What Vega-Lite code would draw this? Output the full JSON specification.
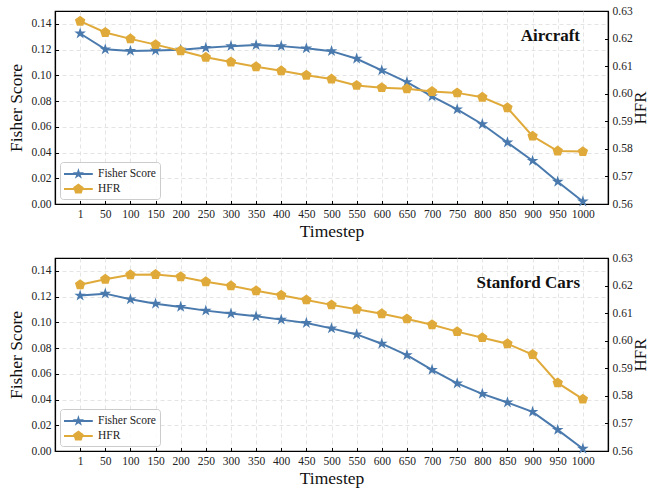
{
  "$schema": "https://vega.github.io/schema/vega-lite/v6.json",
  "padding": {"left": 7, "top": 4, "right": 0, "bottom": 0},
  "background": "white",
  "config": {
    "font": "Liberation Serif",
    "view": {"stroke": "#000", "strokeWidth": 1.2},
    "axis": {
      "labelFont": "Liberation Serif", "labelFontSize": 11.5, "labelColor": "#222",
      "titleFont": "Liberation Serif", "titleFontSize": 17.5, "titleFontWeight": "normal", "titleColor": "#111",
      "tickSize": -3.5, "tickColor": "#000", "tickWidth": 1, "labelPadding": 7.5,
      "domainColor": "#000", "domainWidth": 1.2,
      "gridColor": "#dddddd", "gridDash": [4, 3], "gridWidth": 0.8
    },
    "legend": {"labelFont": "Liberation Serif", "labelFontSize": 11.5, "labelColor": "#222"}
  },
  "datasets": {
    "d": [
      {"ds": "Aircraft", "t": 1, "fisher": 0.1325, "hfr": 0.6263},
      {"ds": "Aircraft", "t": 50, "fisher": 0.1202, "hfr": 0.6222},
      {"ds": "Aircraft", "t": 100, "fisher": 0.1190, "hfr": 0.6199},
      {"ds": "Aircraft", "t": 150, "fisher": 0.1193, "hfr": 0.6178},
      {"ds": "Aircraft", "t": 200, "fisher": 0.1199, "hfr": 0.6156},
      {"ds": "Aircraft", "t": 250, "fisher": 0.1214, "hfr": 0.6132},
      {"ds": "Aircraft", "t": 300, "fisher": 0.1227, "hfr": 0.6115},
      {"ds": "Aircraft", "t": 350, "fisher": 0.1235, "hfr": 0.6098},
      {"ds": "Aircraft", "t": 400, "fisher": 0.1227, "hfr": 0.6083},
      {"ds": "Aircraft", "t": 450, "fisher": 0.1210, "hfr": 0.6067},
      {"ds": "Aircraft", "t": 500, "fisher": 0.1188, "hfr": 0.6053},
      {"ds": "Aircraft", "t": 550, "fisher": 0.1129, "hfr": 0.6030},
      {"ds": "Aircraft", "t": 600, "fisher": 0.1039, "hfr": 0.6022},
      {"ds": "Aircraft", "t": 650, "fisher": 0.0948, "hfr": 0.6018},
      {"ds": "Aircraft", "t": 700, "fisher": 0.0837, "hfr": 0.6008},
      {"ds": "Aircraft", "t": 750, "fisher": 0.0736, "hfr": 0.6003},
      {"ds": "Aircraft", "t": 800, "fisher": 0.0620, "hfr": 0.5987},
      {"ds": "Aircraft", "t": 850, "fisher": 0.0478, "hfr": 0.5949},
      {"ds": "Aircraft", "t": 900, "fisher": 0.0336, "hfr": 0.5846},
      {"ds": "Aircraft", "t": 950, "fisher": 0.0173, "hfr": 0.5792},
      {"ds": "Aircraft", "t": 1000, "fisher": 0.0020, "hfr": 0.5790},
      {"ds": "Stanford Cars", "t": 1, "fisher": 0.1208, "hfr": 0.6203},
      {"ds": "Stanford Cars", "t": 50, "fisher": 0.1223, "hfr": 0.6223},
      {"ds": "Stanford Cars", "t": 100, "fisher": 0.1179, "hfr": 0.6239},
      {"ds": "Stanford Cars", "t": 150, "fisher": 0.1145, "hfr": 0.6240},
      {"ds": "Stanford Cars", "t": 200, "fisher": 0.1120, "hfr": 0.6232},
      {"ds": "Stanford Cars", "t": 250, "fisher": 0.1091, "hfr": 0.6214},
      {"ds": "Stanford Cars", "t": 300, "fisher": 0.1068, "hfr": 0.6199},
      {"ds": "Stanford Cars", "t": 350, "fisher": 0.1047, "hfr": 0.6181},
      {"ds": "Stanford Cars", "t": 400, "fisher": 0.1021, "hfr": 0.6165},
      {"ds": "Stanford Cars", "t": 450, "fisher": 0.0995, "hfr": 0.6148},
      {"ds": "Stanford Cars", "t": 500, "fisher": 0.0953, "hfr": 0.6130},
      {"ds": "Stanford Cars", "t": 550, "fisher": 0.0906, "hfr": 0.6114},
      {"ds": "Stanford Cars", "t": 600, "fisher": 0.0834, "hfr": 0.6098},
      {"ds": "Stanford Cars", "t": 650, "fisher": 0.0745, "hfr": 0.6079},
      {"ds": "Stanford Cars", "t": 700, "fisher": 0.0631, "hfr": 0.6058},
      {"ds": "Stanford Cars", "t": 750, "fisher": 0.0525, "hfr": 0.6033},
      {"ds": "Stanford Cars", "t": 800, "fisher": 0.0444, "hfr": 0.6011},
      {"ds": "Stanford Cars", "t": 850, "fisher": 0.0377, "hfr": 0.5989},
      {"ds": "Stanford Cars", "t": 900, "fisher": 0.0304, "hfr": 0.5950},
      {"ds": "Stanford Cars", "t": 950, "fisher": 0.0164, "hfr": 0.5847},
      {"ds": "Stanford Cars", "t": 1000, "fisher": 0.0018, "hfr": 0.5788}
    ]
  },
  "vconcat": [
    {
      "width": 553, "height": 193,
      "data": {"name": "d"},
      "transform": [{"filter": "datum.ds === 'Aircraft'"}],
      "title": {"text": "Aircraft", "anchor": "end", "frame": "group", "offset": -40, "dx": -28, "fontSize": 17, "fontWeight": "bold", "font": "Liberation Serif", "color": "#111"},
      "encoding": {
        "x": {"field": "t", "type": "ordinal", "scale": {"type": "point", "padding": 1}, "axis": {"labelAngle": 0, "title": "Timestep", "titlePadding": 3, "grid": true, "labelFont": "Liberation Serif"}},
        "color": {"datum": "Fisher Score", "type": "nominal", "scale": {"domain": ["Fisher Score", "HFR"], "range": ["#4a7aad", "#e0aa3a"]},
          "legend": {"title": null, "orient": "bottom-left", "offset": 5, "padding": 4, "rowPadding": 1, "symbolSize": 256, "labelOffset": 18,
            "labelFont": "Liberation Serif", "labelFontSize": 11.5,
            "fillColor": "rgba(255,255,255,0.85)", "strokeColor": "#cccccc", "cornerRadius": 3,
            "encode": {"symbols": {"update": {
              "shape": {"signal": "datum.value === 'HFR' ? 'M-1,-0.125H2.6V0.125H-1Z M0.8,-0.69L1.456,-0.213L1.206,0.558L0.394,0.558L0.144,-0.213Z' : 'M-1,-0.125H2.6V0.125H-1Z M0.8,-0.75L0.968,-0.232L1.513,-0.232L1.072,0.0885L1.241,0.607L0.8,0.2865L0.359,0.607L0.528,0.0885L0.087,-0.232L0.632,-0.232Z'"},
              "fill": {"signal": "datum.value === 'HFR' ? '#e0aa3a' : '#4a7aad'"},
              "stroke": {"value": "transparent"},
              "strokeWidth": {"value": 0},
              "opacity": {"value": 1}
            }}}}
        }
      },
      "layer": [
        {
          "mark": {"type": "line", "strokeWidth": 2, "point": {"shape": "M0,-1L0.2245,-0.309L0.951,-0.309L0.363,0.118L0.588,0.809L0,0.382L-0.588,0.809L-0.363,0.118L-0.951,-0.309L-0.2245,-0.309Z", "size": 150, "filled": true, "opacity": 1}},
          "encoding": {
            "y": {"field": "fisher", "type": "quantitative", "scale": {"domain": [0, 0.15], "nice": false}, "axis": {"title": "Fisher Score", "values": [0, 0.02, 0.04, 0.06, 0.08, 0.1, 0.12, 0.14], "format": ".2f", "grid": true, "titlePadding": 5, "labelFont": "Liberation Serif"}}
          }
        },
        {
          "mark": {"type": "line", "strokeWidth": 2, "point": {"shape": "M0,-1L0.951,-0.309L0.588,0.809L-0.588,0.809L-0.951,-0.309Z", "size": 120, "filled": true, "opacity": 1}},
          "encoding": {
            "y": {"field": "hfr", "type": "quantitative", "scale": {"domain": [0.56, 0.63], "nice": false, "zero": false}, "axis": {"orient": "right", "title": "HFR", "titleAngle": 270, "titleBaseline": "top", "titleFontSize": 17, "values": [0.56, 0.57, 0.58, 0.59, 0.6, 0.61, 0.62, 0.63], "format": ".2f", "grid": false, "titlePadding": 0, "labelFont": "Liberation Serif"}},
            "color": {"datum": "HFR", "type": "nominal"}
          }
        }
      ],
      "resolve": {"scale": {"y": "independent"}}
    },
    {
      "width": 553, "height": 193,
      "data": {"name": "d"},
      "transform": [{"filter": "datum.ds === 'Stanford Cars'"}],
      "title": {"text": "Stanford Cars", "anchor": "end", "frame": "group", "offset": -40, "dx": -28, "fontSize": 17, "fontWeight": "bold", "font": "Liberation Serif", "color": "#111"},
      "encoding": {
        "x": {"field": "t", "type": "ordinal", "scale": {"type": "point", "padding": 1}, "axis": {"labelAngle": 0, "title": "Timestep", "titlePadding": 3, "grid": true, "labelFont": "Liberation Serif"}},
        "color": {"datum": "Fisher Score", "type": "nominal", "scale": {"domain": ["Fisher Score", "HFR"], "range": ["#4a7aad", "#e0aa3a"]},
          "legend": {"title": null, "orient": "bottom-left", "offset": 5, "padding": 4, "rowPadding": 1, "symbolSize": 256, "labelOffset": 18,
            "labelFont": "Liberation Serif", "labelFontSize": 11.5,
            "fillColor": "rgba(255,255,255,0.85)", "strokeColor": "#cccccc", "cornerRadius": 3,
            "encode": {"symbols": {"update": {
              "shape": {"signal": "datum.value === 'HFR' ? 'M-1,-0.125H2.6V0.125H-1Z M0.8,-0.69L1.456,-0.213L1.206,0.558L0.394,0.558L0.144,-0.213Z' : 'M-1,-0.125H2.6V0.125H-1Z M0.8,-0.75L0.968,-0.232L1.513,-0.232L1.072,0.0885L1.241,0.607L0.8,0.2865L0.359,0.607L0.528,0.0885L0.087,-0.232L0.632,-0.232Z'"},
              "fill": {"signal": "datum.value === 'HFR' ? '#e0aa3a' : '#4a7aad'"},
              "stroke": {"value": "transparent"},
              "strokeWidth": {"value": 0},
              "opacity": {"value": 1}
            }}}}
        }
      },
      "layer": [
        {
          "mark": {"type": "line", "strokeWidth": 2, "point": {"shape": "M0,-1L0.2245,-0.309L0.951,-0.309L0.363,0.118L0.588,0.809L0,0.382L-0.588,0.809L-0.363,0.118L-0.951,-0.309L-0.2245,-0.309Z", "size": 150, "filled": true, "opacity": 1}},
          "encoding": {
            "y": {"field": "fisher", "type": "quantitative", "scale": {"domain": [0, 0.15], "nice": false}, "axis": {"title": "Fisher Score", "values": [0, 0.02, 0.04, 0.06, 0.08, 0.1, 0.12, 0.14], "format": ".2f", "grid": true, "titlePadding": 5, "labelFont": "Liberation Serif"}}
          }
        },
        {
          "mark": {"type": "line", "strokeWidth": 2, "point": {"shape": "M0,-1L0.951,-0.309L0.588,0.809L-0.588,0.809L-0.951,-0.309Z", "size": 120, "filled": true, "opacity": 1}},
          "encoding": {
            "y": {"field": "hfr", "type": "quantitative", "scale": {"domain": [0.56, 0.63], "nice": false, "zero": false}, "axis": {"orient": "right", "title": "HFR", "titleAngle": 270, "titleBaseline": "top", "titleFontSize": 17, "values": [0.56, 0.57, 0.58, 0.59, 0.6, 0.61, 0.62, 0.63], "format": ".2f", "grid": false, "titlePadding": 0, "labelFont": "Liberation Serif"}},
            "color": {"datum": "HFR", "type": "nominal"}
          }
        }
      ],
      "resolve": {"scale": {"y": "independent"}}
    }
  ],
  "spacing": 54,
  "bounds": "flush",
  "resolve": {"scale": {"color": "independent"}, "legend": {"color": "independent"}}
}
